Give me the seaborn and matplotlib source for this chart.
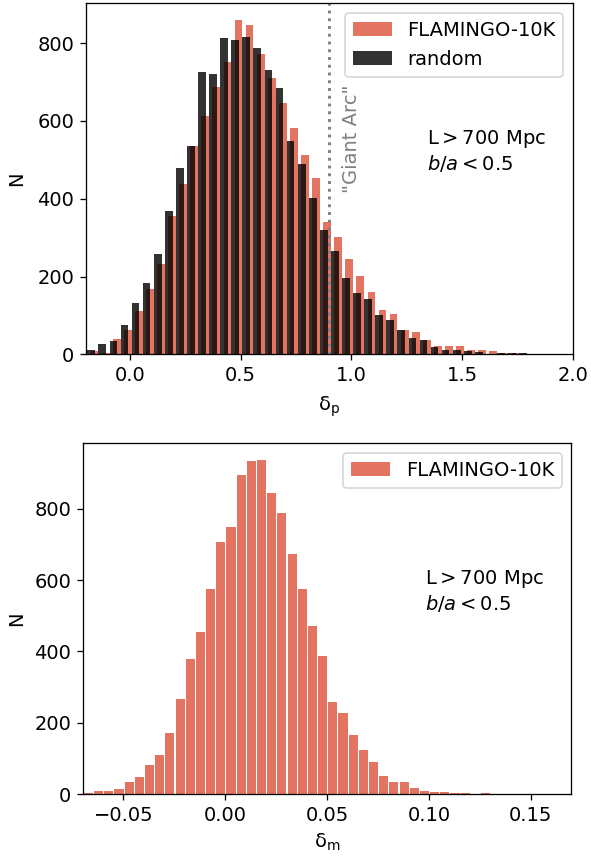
import matplotlib
matplotlib.use("Agg")
import matplotlib.pyplot as plt
import numpy as np
import pandas as pd
import seaborn as sns

# counts
# top panel: delta_p, bins of 0.05
bin_w_p = 0.05
rand_start = -0.2
rand_counts = [11, 27, 34, 75, 132, 183, 258, 369, 479, 536,
               726, 721, 814, 808, 816, 788, 732, 685, 549, 490,
               402, 320, 266, 196, 158, 142, 101, 88, 63, 43,
               38, 20, 12, 12, 9, 7, 2, 4, 4, 4, 2]
flam_start = -0.185
flam_counts_p = [9, 4, 39, 63, 111, 168, 232, 356, 438, 536,
                 613, 688, 752, 859, 846, 773, 711, 647, 582, 513,
                 454, 340, 302, 245, 202, 160, 114, 104, 62, 58,
                 38, 22, 22, 22, 12, 12, 9, 4, 4, 2, 2]

# bottom panel: delta_m, bins of 0.005
bin_w_m = 0.005
flam_start_m = -0.0697
flam_counts_m = [5, 10, 10, 16, 35, 49, 83, 111, 172, 268,
                 379, 455, 575, 707, 749, 894, 933, 936, 844, 788,
                 673, 575, 472, 388, 259, 228, 167, 125, 91, 52,
                 35, 35, 19, 10, 7, 7, 5, 5, 2, 5]

giant_arc = 0.9
c_flam = "#E37461"

sns.set_style("ticks", rc={'axes.edgecolor': 'black', 'text.color': 'black',
                           'axes.labelcolor': 'black', 'xtick.color': 'black',
                           'ytick.color': 'black'})
plt.rcParams['font.family'] = ['DejaVu Sans']
plt.rcParams['font.size'] = 12
plt.rcParams['mathtext.fontset'] = 'dejavusans'
plt.rcParams['xtick.major.size'] = 3.5
plt.rcParams['ytick.major.size'] = 3.5


def binned(start, width, counts):
    centers = start + width * (np.arange(len(counts)) + 0.5)
    df = pd.DataFrame({'x': centers, 'n': counts})
    return df, (start, start + width * len(counts))


DPI = 117
fig, (ax1, ax2) = plt.subplots(2, 1, figsize=(591 / DPI, 858 / DPI), dpi=DPI)
ax1.set_position([0.145, 0.587, 0.8245, 0.409])
ax2.set_position([0.140, 0.0742, 0.827, 0.4091])

# ---- top panel
df, rng = binned(flam_start, bin_w_p, flam_counts_p)
sns.histplot(data=df, x='x', weights='n', binwidth=bin_w_p, binrange=rng,
             shrink=0.7, color=c_flam, alpha=1, edgecolor='none', linewidth=0,
             label='FLAMINGO-10K', ax=ax1)
df, rng = binned(rand_start, bin_w_p, rand_counts)
sns.histplot(data=df, x='x', weights='n', binwidth=bin_w_p, binrange=rng,
             shrink=0.7, color='k', alpha=0.8, edgecolor='none', linewidth=0,
             label='random', ax=ax1)
ax1.axvline(giant_arc, color='gray', ls=':', lw=1.8)
ax1.text(0.957, 415, '"Giant Arc"', rotation=90, color='gray',
         ha='left', va='bottom', fontsize=12)
ax1.text(0.70, 0.58, "L$>$700 Mpc\n$b/a < 0.5$", transform=ax1.transAxes,
         ha='left', va='center', fontsize=12)
ax1.set_xlim(-0.2, 2.0)
ax1.set_xlabel(r"δ$_\mathrm{p}$", labelpad=6)
ax1.set_ylabel("N", labelpad=7)
ax1.legend(loc='upper right')

# ---- bottom panel
df, rng = binned(flam_start_m, bin_w_m, flam_counts_m)
sns.histplot(data=df, x='x', weights='n', binwidth=bin_w_m, binrange=rng,
             shrink=0.9, color=c_flam, alpha=1, edgecolor='none', linewidth=0,
             label='FLAMINGO-10K', ax=ax2)
ax2.text(0.70, 0.58, "L$>$700 Mpc\n$b/a < 0.5$", transform=ax2.transAxes,
         ha='left', va='center', fontsize=12)
ax2.set_xlim(-0.07, 0.17)
ax2.set_xticks([-0.05, 0.0, 0.05, 0.10, 0.15])
ax2.set_xlabel(r"δ$_\mathrm{m}$")
ax2.set_ylabel("N", labelpad=5)
ax2.legend(loc='upper right')

fig.savefig("out.png", dpi=DPI)
